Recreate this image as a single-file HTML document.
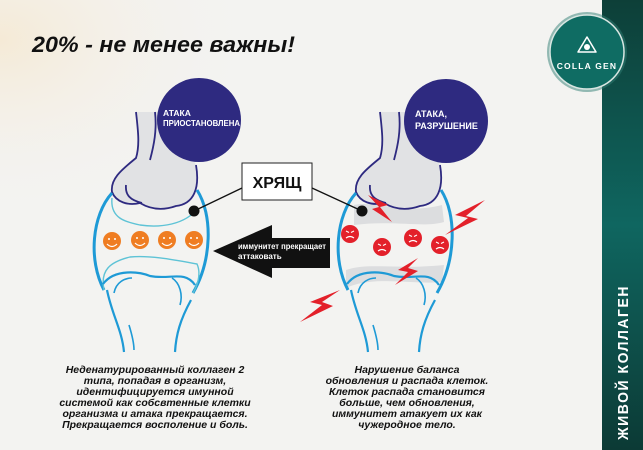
<!DOCTYPE html>
<html><head><meta charset="utf-8"><style>
html,body{margin:0;padding:0;}
body{width:643px;height:450px;overflow:hidden;background:#f3f3f1;}
svg{display:block;font-family:"Liberation Sans",sans-serif;}
</style></head><body>
<svg width="643" height="450" viewBox="0 0 643 450" xmlns="http://www.w3.org/2000/svg">
<defs>
<radialGradient id="bg" cx="0" cy="0" r="1" gradientUnits="userSpaceOnUse" gradientTransform="translate(0,40) scale(260,180)">
<stop offset="0" stop-color="#f5ead6"/><stop offset="1" stop-color="#f3f3f1" stop-opacity="0"/></radialGradient>
<linearGradient id="bar" x1="0" y1="0" x2="0" y2="1"><stop offset="0" stop-color="#0d3f38"/><stop offset="0.5" stop-color="#0f6660"/><stop offset="1" stop-color="#0c3a35"/></linearGradient>
<g id="upper">
<path d="M136,112 C138,130 140,145 136,158 C124,168 110,178 112,192 C116,202 128,206 140,203 C150,209 162,211 176,206 C194,204 200,188 196,165 C190,152 180,140 176,128 L170,112 Z" fill="#e1e2e4"/>
<path d="M136,112 C138,130 140,145 136,158 C124,168 110,178 112,192 C116,202 128,206 140,203 C150,209 162,211 176,206 C194,204 200,188 196,165" fill="none" stroke="#2e2a80" stroke-width="1.8"/>
<path d="M155,112 C157,130 154,145 150,160" fill="none" stroke="#2e2a80" stroke-width="1.8"/>
<path d="M126,185 C125,195 130,200 142,203" fill="none" stroke="#2e2a80" stroke-width="1.8"/>
</g>
</defs>
<rect width="643" height="450" fill="#f3f3f1"/>
<rect width="643" height="450" fill="url(#bg)"/>
<rect x="602" y="0" width="41" height="450" fill="url(#bar)"/>
<text x="32" y="52" font-size="22" font-weight="bold" font-style="italic" fill="#111" textLength="263" lengthAdjust="spacingAndGlyphs">20% - не менее важны!</text>

<!-- logo -->
<circle cx="587" cy="52" r="40" fill="#2f7d74" opacity="0.5"/>
<circle cx="587" cy="52" r="37" fill="#0f6c63" stroke="#d8e6e2" stroke-width="1.5"/>
<path d="M587,37 L578,52 L596,52 Z" fill="none" stroke="#fff" stroke-width="1.5" stroke-linejoin="round"/>
<circle cx="587" cy="47" r="3" fill="#fff"/>
<text x="587" y="69" font-size="8.5" font-weight="bold" fill="#fff" text-anchor="middle" letter-spacing="1.2">COLLA GEN</text>
<text transform="translate(628,440) rotate(-90)" font-size="14.5" font-weight="bold" fill="#fff" letter-spacing="1.6" textLength="155" lengthAdjust="spacingAndGlyphs">ЖИВОЙ КОЛЛАГЕН</text>

<!-- LEFT JOINT -->
<use href="#upper"/>
<path d="M112,193 C92,215 88,260 104,290" fill="none" stroke="#1e9ad6" stroke-width="3"/>
<path d="M197,190 C213,215 212,260 193,293" fill="none" stroke="#1e9ad6" stroke-width="3"/>
<path d="M112,198 C110,218 125,222 140,225 C160,228 185,225 198,208" fill="none" stroke="#5ec3d6" stroke-width="1.4"/>
<path d="M104,290 C100,270 110,262 130,257 C150,255 175,260 197,264 C202,275 196,288 193,293" fill="none" stroke="#5ec3d6" stroke-width="1.4"/>
<path d="M103,284 C115,268 140,272 150,276 C170,280 185,270 195,285" fill="none" stroke="#1e9ad6" stroke-width="2.2"/>
<path d="M107,290 C112,315 122,330 124,352" fill="none" stroke="#1e9ad6" stroke-width="2.2"/>
<path d="M191,300 C180,320 176,335 175,352" fill="none" stroke="#1e9ad6" stroke-width="2.2"/>
<path d="M114,293 C116,282 125,278 132,278" fill="none" stroke="#1e9ad6" stroke-width="1.6"/>
<path d="M172,278 C180,283 183,295 180,305" fill="none" stroke="#1e9ad6" stroke-width="1.6"/>
<path d="M129,325 C133,338 134,345 134,350" fill="none" stroke="#1e9ad6" stroke-width="1.6"/>
<g fill="#ef7d22">
<circle cx="112" cy="241" r="9"/><circle cx="140" cy="240" r="9"/><circle cx="167" cy="240" r="9"/><circle cx="194" cy="240" r="9"/></g>
<g fill="none" stroke="#fff" stroke-width="1.2">
<path d="M107,244 Q112,249 117,244"/><path d="M135,243 Q140,248 145,243"/><path d="M162,243 Q167,248 172,243"/><path d="M189,243 Q194,248 199,243"/></g>
<g fill="#fff"><circle cx="109" cy="239" r="1"/><circle cx="115" cy="239" r="1"/><circle cx="137" cy="238" r="1"/><circle cx="143" cy="238" r="1"/><circle cx="164" cy="238" r="1"/><circle cx="170" cy="238" r="1"/><circle cx="191" cy="238" r="1"/><circle cx="197" cy="238" r="1"/></g>
<circle cx="199" cy="120" r="42" fill="#2e2a80"/>
<text x="163" y="116" font-size="8.5" font-weight="bold" fill="#fff">АТАКА</text>
<text x="163" y="126" font-size="8.5" font-weight="bold" fill="#fff" textLength="77" lengthAdjust="spacingAndGlyphs">ПРИОСТАНОВЛЕНА</text>

<!-- RIGHT JOINT -->
<g transform="translate(244,0)">
<path d="M110,205 C130,200 160,215 198,205 L200,222 C180,228 150,220 110,225 Z" fill="#dcdddf"/>
<path d="M102,270 C125,262 150,270 200,265 L198,282 C170,285 130,275 102,288 Z" fill="#dcdddf"/>
<use href="#upper"/>
<path d="M112,193 C92,215 88,260 104,290" fill="none" stroke="#1e9ad6" stroke-width="3"/>
<path d="M197,190 C213,215 212,260 193,293" fill="none" stroke="#1e9ad6" stroke-width="3"/>
<path d="M103,284 C115,268 140,272 150,276 C170,280 185,270 195,285" fill="none" stroke="#1e9ad6" stroke-width="2.2"/>
<path d="M107,290 C112,315 122,330 124,352" fill="none" stroke="#1e9ad6" stroke-width="2.2"/>
<path d="M191,300 C180,320 176,335 175,352" fill="none" stroke="#1e9ad6" stroke-width="2.2"/>
<path d="M114,293 C116,282 125,278 132,278" fill="none" stroke="#1e9ad6" stroke-width="1.6"/>
<path d="M172,278 C180,283 183,295 180,305" fill="none" stroke="#1e9ad6" stroke-width="1.6"/>
<path d="M129,325 C133,338 134,345 134,350" fill="none" stroke="#1e9ad6" stroke-width="1.6"/>
</g>
<g fill="#e3202a">
<circle cx="350" cy="234" r="9"/><circle cx="382" cy="247" r="9"/><circle cx="413" cy="238" r="9"/><circle cx="440" cy="245" r="9"/></g>
<g fill="none" stroke="#fff" stroke-width="1.1">
<path d="M346,238 Q350,235 354,238 M346,231 l3,1.5 M354,231 l-3,1.5"/>
<path d="M378,251 Q382,248 386,251 M378,244 l3,1.5 M386,244 l-3,1.5"/>
<path d="M409,242 Q413,239 417,242 M409,235 l3,1.5 M417,235 l-3,1.5"/>
<path d="M436,249 Q440,246 444,249 M436,242 l3,1.5 M444,242 l-3,1.5"/></g>
<g fill="#e3202a">
<path d="M368,195 L388,205 L380,207 L392,222 L372,209 L379,207 Z"/>
<path d="M485,200 L455,215 L468,218 L445,235 L478,219 L466,216 Z"/>
<path d="M418,258 L398,270 L408,272 L395,285 L418,271 L408,268 Z"/>
<path d="M340,290 L310,302 L322,305 L300,322 L333,306 L322,302 Z"/>
</g>
<circle cx="446" cy="121" r="42" fill="#2e2a80"/>
<text x="415" y="117" font-size="9" font-weight="bold" fill="#fff">АТАКА,</text>
<text x="415" y="129" font-size="9" font-weight="bold" fill="#fff">РАЗРУШЕНИЕ</text>

<!-- cartilage label -->
<line x1="194" y1="211" x2="242" y2="188" stroke="#111" stroke-width="1.3"/>
<line x1="362" y1="211" x2="312" y2="188" stroke="#111" stroke-width="1.3"/>
<circle cx="194" cy="211" r="5.5" fill="#111"/>
<circle cx="362" cy="211" r="5.5" fill="#111"/>
<rect x="242" y="163" width="70" height="37" fill="#fff" stroke="#222" stroke-width="1"/>
<text x="277" y="188" font-size="16" font-weight="bold" fill="#111" text-anchor="middle">ХРЯЩ</text>

<!-- arrow -->
<path d="M213,251 L272,225 L272,238 L330,238 L330,268 L272,268 L272,278 Z" fill="#111"/>
<text x="238" y="249" font-size="8" font-weight="bold" fill="#fff" textLength="88" lengthAdjust="spacingAndGlyphs">иммунитет прекращает</text>
<text x="238" y="259" font-size="8" font-weight="bold" fill="#fff">аттаковать</text>

<!-- captions -->
<g font-size="10.5" font-weight="bold" font-style="italic" fill="#111" text-anchor="middle">
<text x="155" y="373">Неденатурированный коллаген 2</text>
<text x="155" y="384">типа, попадая в организм,</text>
<text x="155" y="395">идентифицируется имунной</text>
<text x="155" y="406">системой как собсвтенные клетки</text>
<text x="155" y="417">организма и атака прекращается.</text>
<text x="155" y="428">Прекращается восполение и боль.</text>
<text x="407" y="373">Нарушение баланса</text>
<text x="407" y="384">обновления и распада клеток.</text>
<text x="407" y="395">Клеток распада становится</text>
<text x="407" y="406">больше, чем обновления,</text>
<text x="407" y="417">иммунитет атакует их как</text>
<text x="407" y="428">чужеродное тело.</text>
</g>
</svg>
</body></html>
